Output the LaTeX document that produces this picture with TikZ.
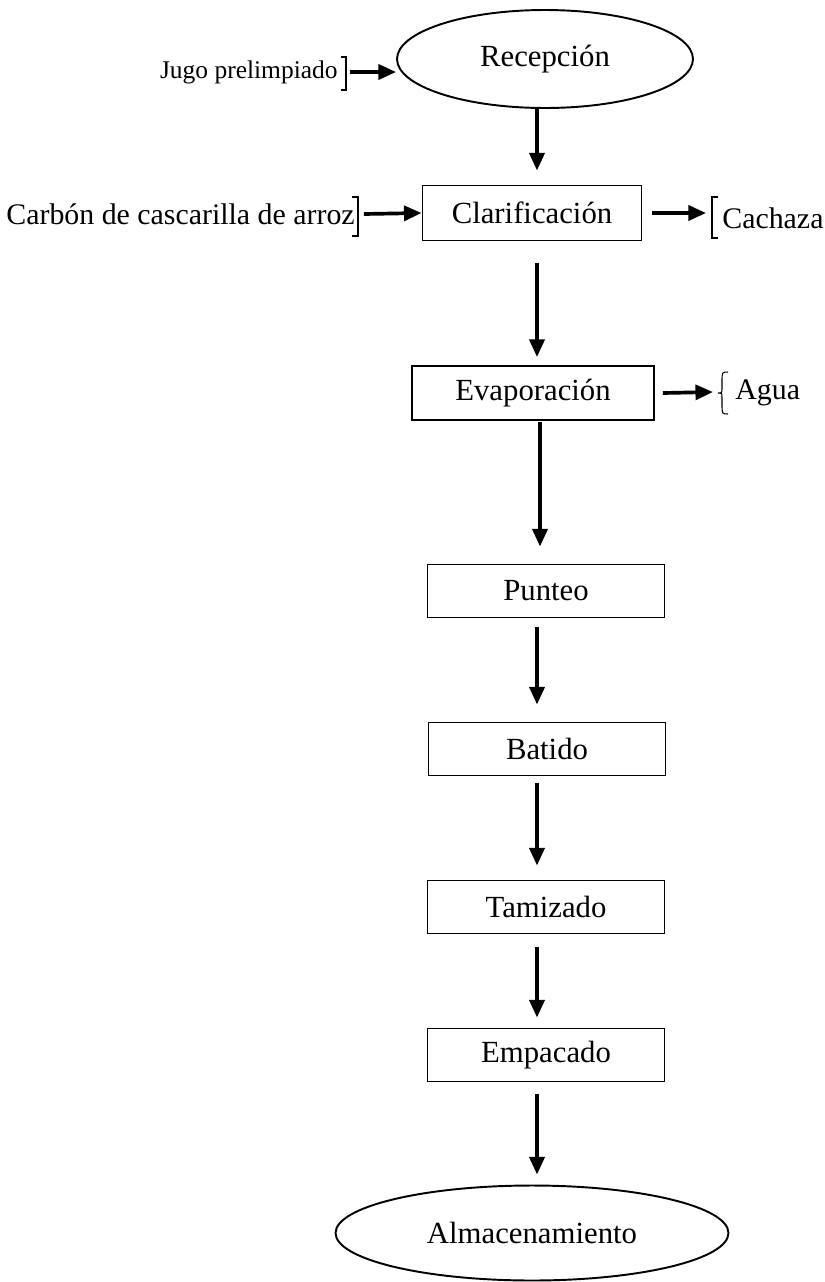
\documentclass[tikz,border=0pt]{standalone}
\usepackage{fontspec}
\setmainfont{Liberation Serif}
\usetikzlibrary{arrows.meta,shapes.geometric}

\tikzset{
  flow/.style={-{Triangle[length=10pt,width=8.5pt]}, line width=2.1pt},
  stepbox/.style={draw, line width=1.1pt, inner sep=0pt, minimum width=4.74cm, minimum height=1.06cm, font=\fontsize{17.5}{20}\selectfont},
  endbox/.style={draw, ellipse, line width=1.1pt, inner sep=0pt, font=\fontsize{17.5}{20}\selectfont},
  side/.style={inner sep=0pt, font=\fontsize{17}{20}\selectfont},
  brace/.style={line width=0.6pt}
}

\begin{document}
\begin{tikzpicture}[x=0.02cm,y=-0.02cm]
\useasboundingbox (0,0) rectangle (825,1282);

% main line
\node[endbox, minimum width=5.92cm, minimum height=1.96cm] (recep) at (545,59) {Recepción};
\node[stepbox, minimum width=4.38cm, minimum height=1.1cm] (clar) at (532,213) {Clarificación};
\node[stepbox, minimum width=4.84cm, minimum height=1.08cm] (evap) at (533,393) {Evaporación};
\node[stepbox] (punt) at (546,591) {Punteo};
\node[stepbox] (bati) at (547,749) {Batido};
\node[stepbox] (tami) at (546,907) {Tamizado};
\node[stepbox] (empa) at (546,1055) {Empacado};
\node[endbox, minimum width=7.86cm, minimum height=1.9cm] (alma) at (532,1233) {Almacenamiento};

% inputs and outputs
\node[side, font=\fontsize{14.5}{17}\selectfont, anchor=east] (jugo) at (338,72) {Jugo prelimpiado};
\node[side, anchor=east] (carb) at (355,214) {Carbón de cascarilla de arroz};
\node[side, anchor=west] (cach) at (722,218) {Cachaza};
\node[side, anchor=west] (agua) at (735,393) {Agua};

\draw[brace] (341,57) -- (346,57) -- (346,90) -- (341,90);
\draw[brace] (352,197) -- (358,197) -- (358,236) -- (352,236);
\draw[brace] (718,197) -- (712,197) -- (712,238) -- (718,238);
\draw[brace] (728,372) .. controls (722,372) .. (722,382) -- (722,388)
  .. controls (722,393) .. (718,393) .. controls (722,393) .. (722,398)
  -- (722,404) .. controls (722,414) .. (728,414);

% connectors
\draw[flow] ([xshift=7pt]jugo.east) -- (recep.west |- 0,72);
\draw[flow] ([xshift=5pt]carb.east) -- (clar.west);
\draw[flow] ([xshift=0.2cm]clar.east) -- (706,213);
\draw[flow] ([xshift=0.16cm]evap.east) -- (713,392);

\draw[flow] (recep.south -| 537,0) -- ([yshift=0.28cm]clar.north -| 537,0);
\draw[flow] ([yshift=-0.44cm]clar.south -| 537,0) -- ([yshift=0.16cm]evap.north -| 537,0);
\draw[flow] ([yshift=-0.02cm]evap.south -| 540,0) -- ([yshift=0.34cm]punt.north -| 540,0);
\draw[flow] ([yshift=-0.18cm]punt.south -| 537,0) -- ([yshift=0.34cm]bati.north -| 537,0);
\draw[flow] ([yshift=-0.14cm]bati.south -| 537,0) -- ([yshift=0.28cm]tami.north -| 537,0);
\draw[flow] ([yshift=-0.26cm]tami.south -| 537,0) -- ([yshift=0.2cm]empa.north -| 537,0);
\draw[flow] ([yshift=-0.24cm]empa.south -| 537,0) -- ([yshift=0.2cm]alma.north -| 537,0);
\end{tikzpicture}
\end{document}
